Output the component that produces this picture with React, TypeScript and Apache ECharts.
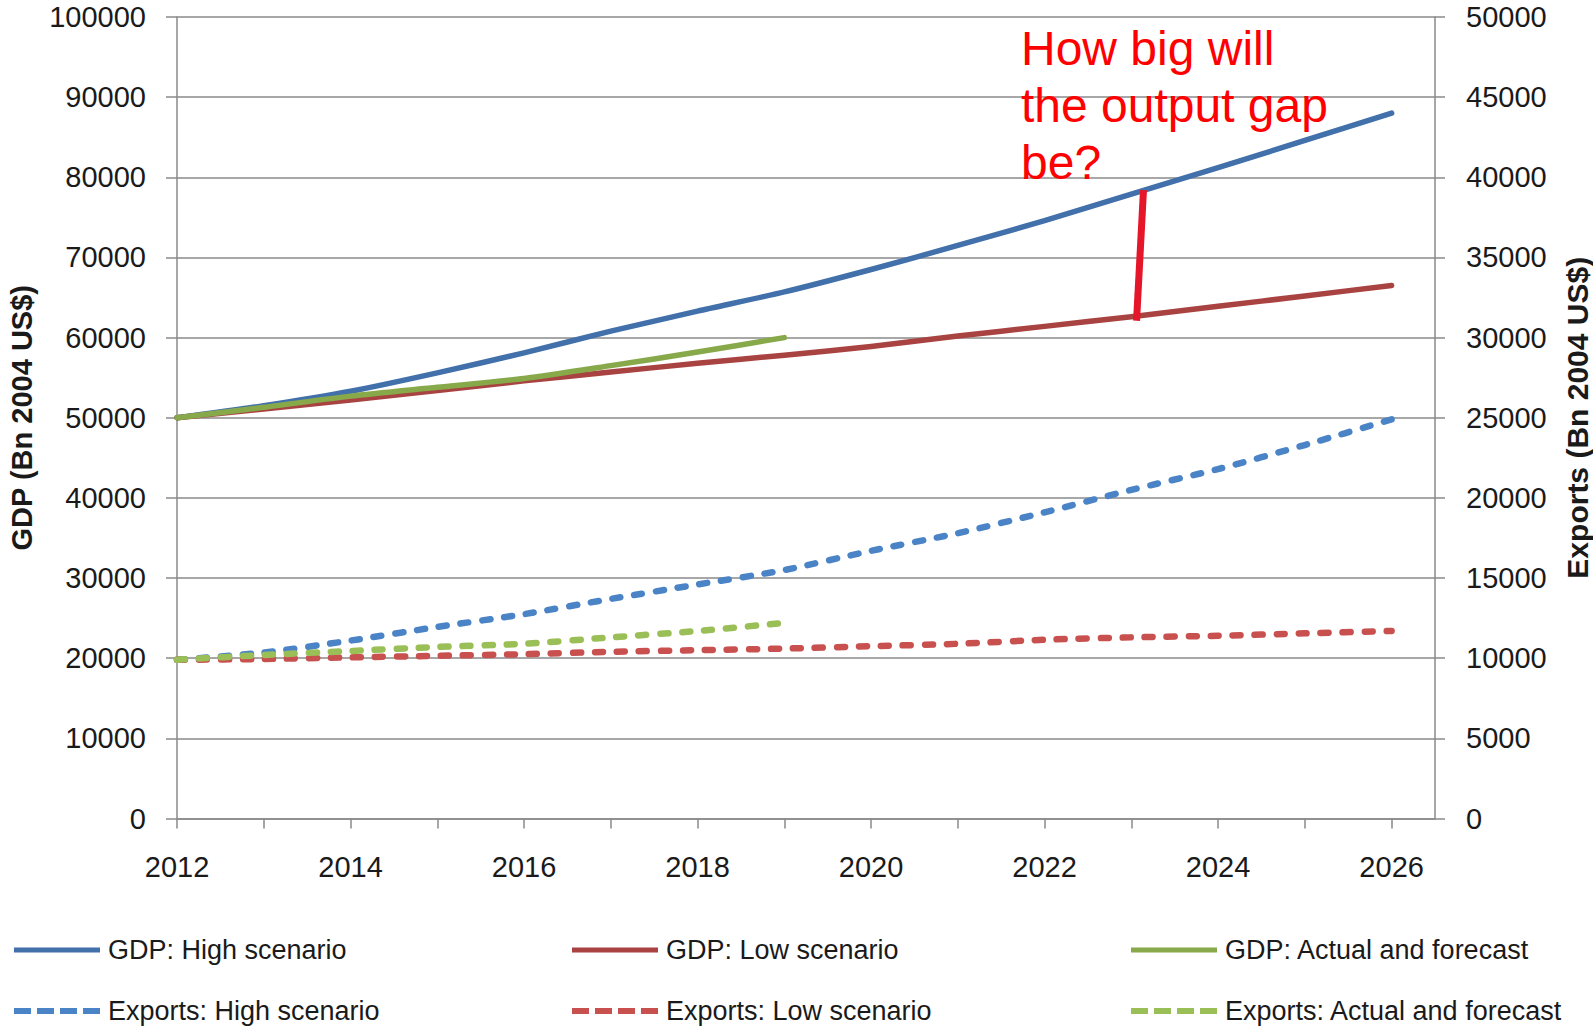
import React, { useEffect, useRef } from "react";
import * as echarts from "echarts";

// Years on the horizontal axis
const years = [2012, 2013, 2014, 2015, 2016, 2017, 2018, 2019, 2020, 2021, 2022, 2023, 2024, 2025, 2026];
const labelYears = [2012, 2014, 2016, 2018, 2020, 2022, 2024, 2026];

// GDP, Bn 2004 US$ (left axis)
const gdpHigh = [50000, 51500, 53300, 55600, 58100, 60800, 63300, 65700, 68500, 71500, 74600, 77900, 81200, 84600, 88000];
const gdpLow = [50000, 51100, 52200, 53400, 54600, 55700, 56800, 57800, 58900, 60200, 61400, 62600, 63900, 65200, 66500];
const gdpActual = [50000, 51300, 52700, 53800, 54900, 56500, 58200, 60000];

// Exports, Bn 2004 US$ (right axis)
const expHigh = [9900, 10350, 11100, 11950, 12750, 13700, 14600, 15500, 16700, 17800, 19100, 20500, 21800, 23300, 24900];
const expLow = [9900, 9950, 10050, 10150, 10250, 10400, 10500, 10600, 10750, 10900, 11150, 11300, 11400, 11550, 11700];
const expActual = [9900, 10200, 10450, 10700, 10900, 11300, 11700, 12200];

// The red bar marking the gap between the two GDP scenarios
const gapYears = [2023.14, 2023.06];
const gapValues = [78400, 62100];

const seriesNames = [
  "GDP: High scenario",
  "GDP: Low scenario",
  "GDP: Actual and forecast",
  "Exports: High scenario",
  "Exports: Low scenario",
  "Exports: Actual and forecast",
];

const FONT = "'Liberation Sans', Arial, sans-serif";
const AXIS_GREY = "#8a8a8a";

// Legend keys: a solid bar and a four-dash bar
const SOLID_ICON = "path://M0,0H86V5H0Z";
const DASH_ICON = "path://M0,0h17v6h-17zM23,0h17v6h-17zM46,0h17v6h-17zM69,0h17v6h-17z";

const pairs = (xs: number[], ys: number[]) => ys.map((v, i) => [xs[i], v]);

export default function App() {
  const ref = useRef<HTMLDivElement>(null);

  useEffect(() => {
    if (!ref.current) return;
    const chart = echarts.init(ref.current, undefined, { renderer: "svg" });

    const solid = (name: string, color: string, values: number[]) => ({
      name,
      type: "line",
      yAxisIndex: 0,
      data: pairs(years, values),
      showSymbol: false,
      symbol: "none",
      smooth: 0.25,
      lineStyle: { color, width: 5.5, cap: "round", join: "round" },
      itemStyle: { color },
    });
    const dashed = (name: string, color: string, values: number[]) => ({
      name,
      type: "line",
      yAxisIndex: 1,
      data: pairs(years, values),
      showSymbol: false,
      symbol: "none",
      smooth: 0.25,
      lineStyle: { color, width: 6.5, type: [8, 14], cap: "round", join: "round" },
      itemStyle: { color },
    });

    const legendItem = (left: number, top: number, name: string, dashedKey: boolean) => ({
      orient: "horizontal",
      left,
      top,
      padding: 0,
      icon: dashedKey ? DASH_ICON : SOLID_ICON,
      itemWidth: 86,
      itemHeight: dashedKey ? 6 : 5,
      itemGap: 0,
      data: [name],
      textStyle: {
        fontFamily: FONT,
        fontSize: 27,
        color: "#1a1a1a",
        lineHeight: 30,
        padding: [0, 0, 0, 3],
      },
    });

    chart.setOption({
      animation: false,
      backgroundColor: "#ffffff",
      grid: {
        left: 177,
        top: 17,
        width: 1258,
        height: 801.5,
        containLabel: false,
        outerBoundsMode: "none",
      },
      legend: [
        legendItem(14, 935, seriesNames[0], false),
        legendItem(572, 935, seriesNames[1], false),
        legendItem(1131, 935, seriesNames[2], false),
        legendItem(14, 996, seriesNames[3], true),
        legendItem(572, 996, seriesNames[4], true),
        legendItem(1131, 996, seriesNames[5], true),
      ],
      xAxis: {
        type: "value",
        min: 2012,
        max: 2026.5,
        interval: 1,
        axisLine: { show: true, lineStyle: { color: AXIS_GREY, width: 1.5 } },
        axisTick: { show: true, length: 10, customValues: years, lineStyle: { color: AXIS_GREY, width: 1.5 } },
        axisLabel: {
          customValues: labelYears,
          formatter: (v: number) => String(v),
          fontFamily: FONT,
          fontSize: 29,
          color: "#1a1a1a",
          margin: 34,
        },
        splitLine: { show: false },
      },
      yAxis: [
        {
          type: "value",
          position: "left",
          min: 0,
          max: 100000,
          interval: 10000,
          name: "GDP (Bn 2004 US$)",
          nameLocation: "middle",
          nameRotate: 90,
          nameGap: 141,
          nameTextStyle: { fontFamily: FONT, fontSize: 29, fontWeight: "bold", color: "#1a1a1a" },
          axisLine: { show: true, lineStyle: { color: AXIS_GREY, width: 1.5 } },
          axisTick: { show: true, length: 11, lineStyle: { color: AXIS_GREY, width: 1.5 } },
          axisLabel: {
            formatter: (v: number) => String(v),
            fontFamily: FONT,
            fontSize: 29,
            color: "#1a1a1a",
            margin: 31,
          },
          splitLine: { show: true, lineStyle: { color: AXIS_GREY, width: 1.5 } },
        },
        {
          type: "value",
          position: "right",
          min: 0,
          max: 50000,
          interval: 5000,
          name: "Exports (Bn 2004 US$)",
          nameLocation: "middle",
          nameRotate: 90,
          nameGap: 127,
          nameTextStyle: { fontFamily: FONT, fontSize: 30, fontWeight: "bold", color: "#1a1a1a" },
          axisLine: { show: true, lineStyle: { color: AXIS_GREY, width: 1.5 } },
          axisTick: { show: true, length: 10, lineStyle: { color: AXIS_GREY, width: 1.5 } },
          axisLabel: {
            formatter: (v: number) => String(v),
            fontFamily: FONT,
            fontSize: 29,
            color: "#1a1a1a",
            margin: 31,
          },
          splitLine: { show: false },
        },
      ],
      series: [
        solid(seriesNames[0], "#4170AA", gdpHigh),
        solid(seriesNames[1], "#A94341", gdpLow),
        solid(seriesNames[2], "#87A94A", gdpActual),
        dashed(seriesNames[3], "#4A84C6", expHigh),
        dashed(seriesNames[4], "#C8504E", expLow),
        dashed(seriesNames[5], "#9BBF57", expActual),
        {
          name: "gap",
          type: "line",
          yAxisIndex: 0,
          data: pairs(gapYears, gapValues),
          showSymbol: false,
          symbol: "none",
          z: 5,
          lineStyle: { color: "#E5162A", width: 7 },
        },
      ],
      graphic: [
        {
          type: "text",
          left: 1021,
          top: 20,
          z: 10,
          style: {
            text: "How big will\nthe output gap\nbe?",
            font: `48px ${FONT}`,
            lineHeight: 57,
            fill: "#FF0000",
          },
        },
      ],
    });

    return () => chart.dispose();
  }, []);

  return (
    <div
      ref={ref}
      style={{ position: "absolute", left: 0, top: 0, width: 1593, height: 1028 }}
    />
  );
}
